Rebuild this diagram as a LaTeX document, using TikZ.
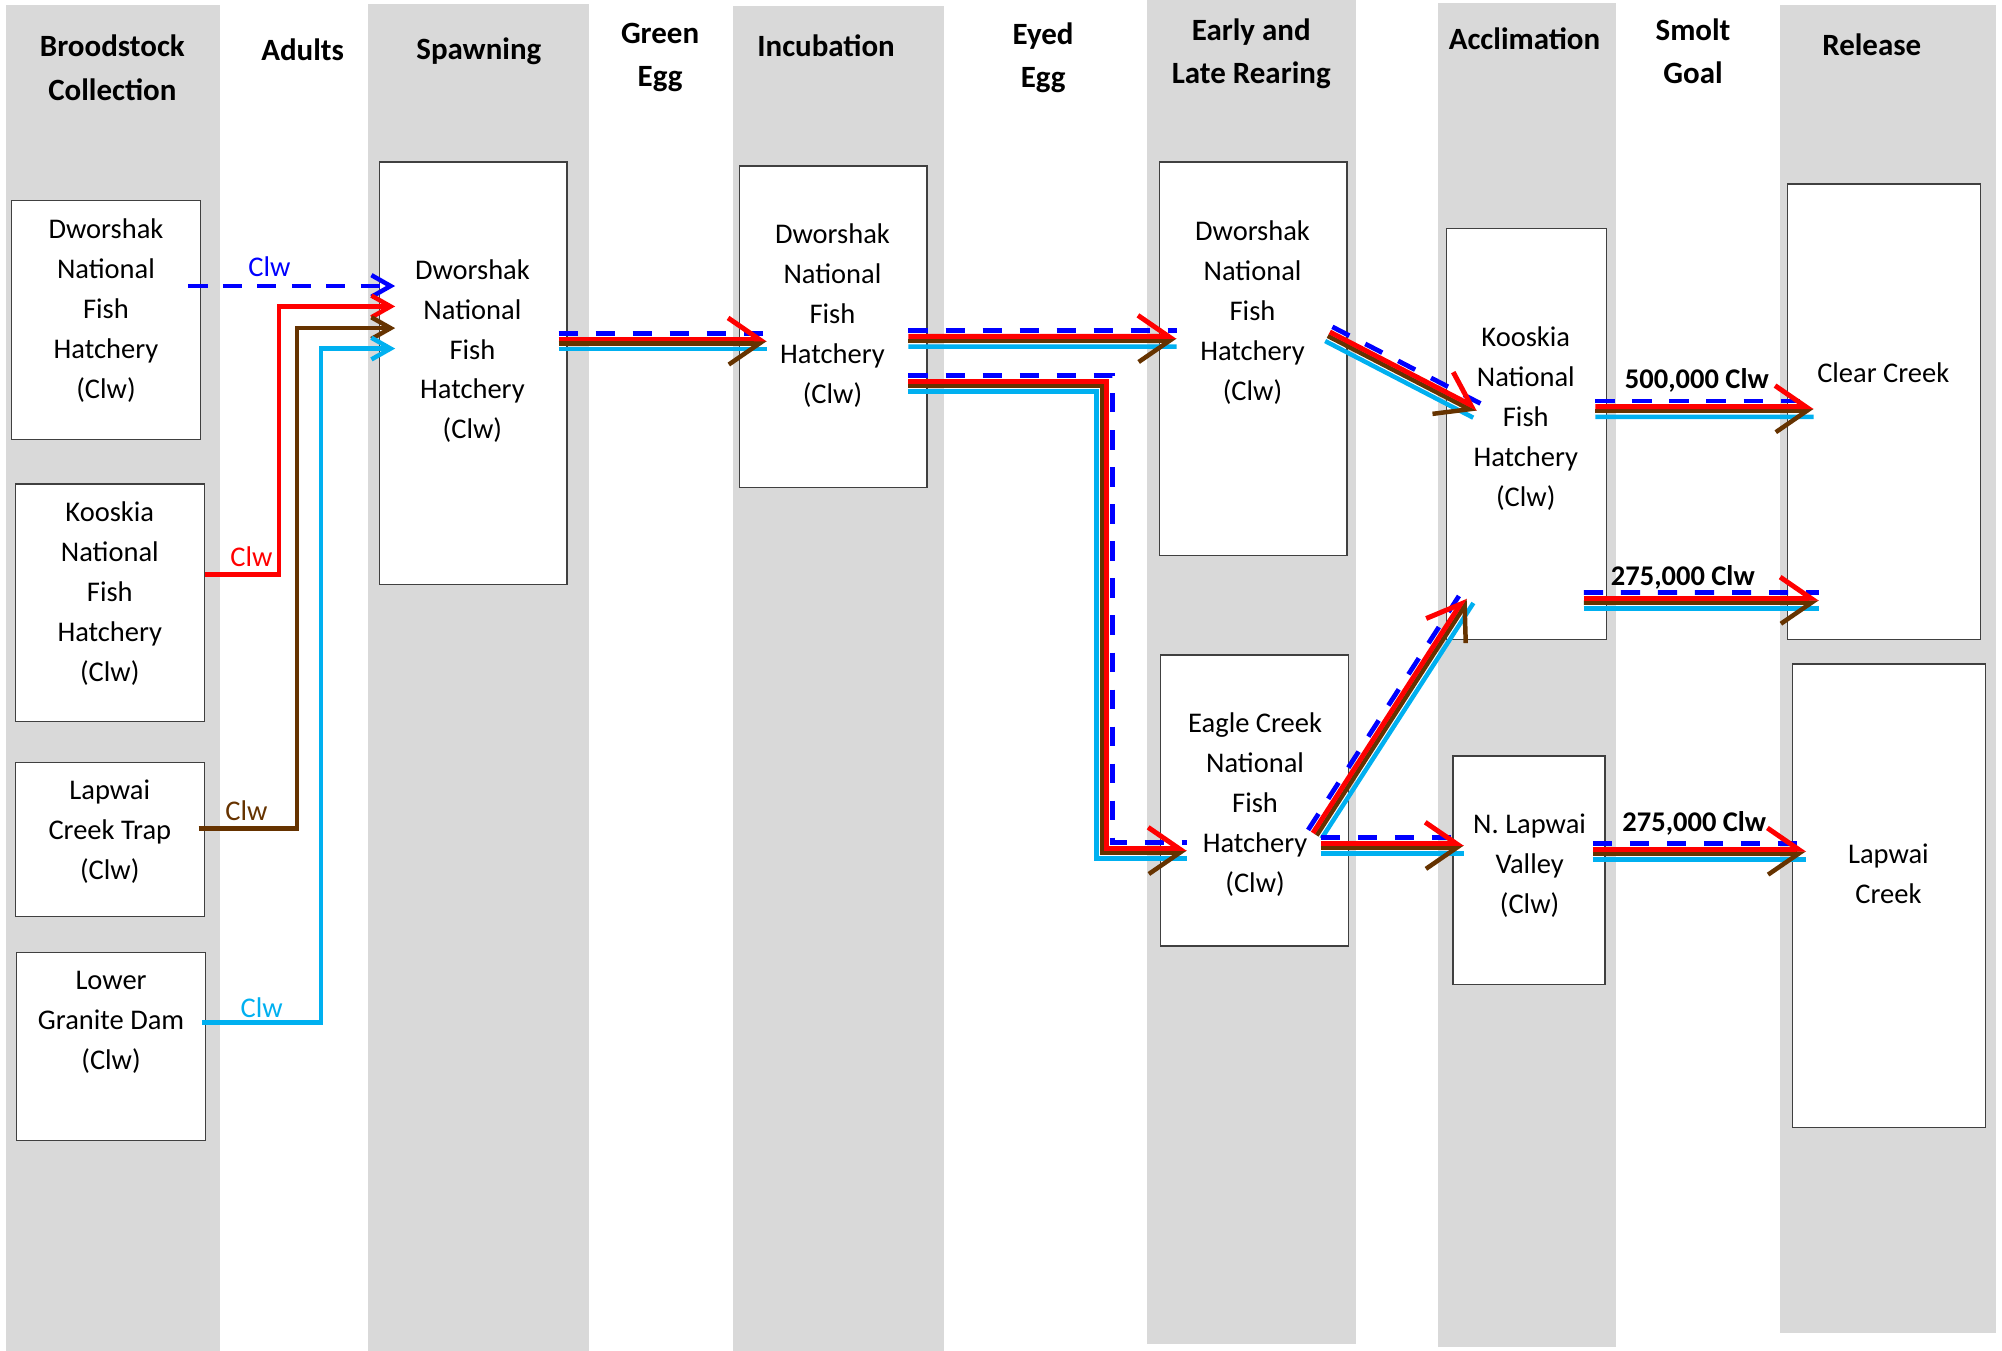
\documentclass[tikz,border=0pt]{standalone}
\usepackage{fontspec}
\setmainfont{Carlito}
\usetikzlibrary{arrows.meta, calc, positioning}

\definecolor{lanegray}{RGB}{217,217,217}
\definecolor{boxline}{RGB}{64,64,64}
\definecolor{flowblue}{RGB}{0,0,255}
\definecolor{flowred}{RGB}{255,0,0}
\definecolor{flowbrown}{RGB}{102,51,0}
\definecolor{flowcyan}{RGB}{0,176,240}

\begin{document}
\begin{tikzpicture}
        [x=0.2mm, y=-0.2mm,
         lanesty/.style={fill=lanegray,
                         draw=none},
         headsty/.style={font=\bfseries\fontsize{13.8}{19.3}\selectfont,
                         align=center,
                         inner sep=0pt},
         boxsty/.style={rectangle,
                        inner sep=0pt,
                        line width=0.6pt,
                        draw=boxline,
                        fill=white},
         textsty/.style={font=\fontsize{12.7}{17.8}\selectfont,
                         align=center,
                         inner sep=0pt},
         clwsty/.style={font=\fontsize{12.7}{15}\selectfont,
                        inner sep=0pt},
         goalsty/.style={font=\bfseries\fontsize{12.7}{15}\selectfont,
                         inner sep=0pt},
         adult/.style={line width=2pt, -{Straight Barb[length=3mm, width=3.4mm]}},
         blueflow/.style={line width=2.1pt, flowblue, dash pattern=on 3mm off 2.8mm},
         redflow/.style={line width=2.2pt, flowred, -{Straight Barb[left, length=4.8mm, width=6.6mm]}},
         brownflow/.style={line width=2pt, flowbrown, -{Straight Barb[right, length=4.8mm, width=6.6mm]}},
         cyanflow/.style={line width=2pt, flowcyan}]

        \useasboundingbox (0,0) rectangle (1568,1058);

        % gray stage columns
        \foreach \xa/\xb/\ya/\yb in {5/172/4/1058, 288/461/3/1058, 574/739/5/1058,
                                     898/1062/0/1053, 1126/1266/2/1055, 1394/1563/4/1044}
                \fill[lanesty] (\xa,\ya) rectangle (\xb,\yb);

        % column headings
        \node[headsty] (brood head) at (88,53) {Broodstock\\Collection};
        \node[headsty] (adult head) at (237,39) {Adults};
        \node[headsty] (spawn head) at (375,40) {Spawning};
        \node[headsty] (green head) at (517,45) {Green\\Egg};
        \node[headsty] (incub head) at (647,36) {Incubation};
        \node[headsty] (eyed head) at (817,45) {Eyed\\Egg};
        \node[headsty] (rear head) at (980,42) {Early and\\Late Rearing};
        \node[headsty] (accl head) at (1194,30) {Acclimation};
        \node[headsty] (smolt head) at (1326,40) {Smolt\\Goal};
        \node[headsty] (rel head) at (1466,35) {Release};

        % facility boxes
        \node[boxsty, minimum width=29.6mm, minimum height=37.4mm] (brood1 box) at (83,250.5) {};
        \node[textsty] (brood1 text) at (83,243.5) {Dworshak\\National\\Fish\\Hatchery\\(Clw)};

        \node[boxsty, minimum width=29.6mm, minimum height=37.2mm] (brood2 box) at (86,472) {};
        \node[textsty] (brood2 text) at (86,465) {Kooskia\\National\\Fish\\Hatchery\\(Clw)};

        \node[boxsty, minimum width=29.6mm, minimum height=24.2mm] (brood3 box) at (86,657.5) {};
        \node[textsty] (brood3 text) at (86,651.5) {Lapwai\\Creek Trap\\(Clw)};

        \node[boxsty, minimum width=29.6mm, minimum height=29.4mm] (brood4 box) at (87,819.5) {};
        \node[textsty] (brood4 text) at (87,800.5) {Lower\\Granite Dam\\(Clw)};

        \node[boxsty, minimum width=29.4mm, minimum height=66.2mm] (spawn box) at (370.5,292.5) {};
        \node[textsty] (spawn text) at (370,275) {Dworshak\\National\\Fish\\Hatchery\\(Clw)};

        \node[boxsty, minimum width=29.4mm, minimum height=50.4mm] (incub box) at (652.5,256) {};
        \node[textsty] (incub text) at (652,247) {Dworshak\\National\\Fish\\Hatchery\\(Clw)};

        \node[boxsty, minimum width=29.4mm, minimum height=61.6mm] (rear1 box) at (981.5,281) {};
        \node[textsty] (rear1 text) at (981,245) {Dworshak\\National\\Fish\\Hatchery\\(Clw)};

        \node[boxsty, minimum width=29.4mm, minimum height=45.6mm] (rear2 box) at (982.5,627) {};
        \node[textsty] (rear2 text) at (983,630) {Eagle Creek\\National\\Fish\\Hatchery\\(Clw)};

        \node[boxsty, minimum width=25mm, minimum height=64.4mm] (accl1 box) at (1195.5,340) {};
        \node[textsty] (accl1 text) at (1195,328) {Kooskia\\National\\Fish\\Hatchery\\(Clw)};

        \node[boxsty, minimum width=23.8mm, minimum height=35.8mm] (accl2 box) at (1197.5,681.5) {};
        \node[textsty] (accl2 text) at (1198,678) {N. Lapwai\\Valley\\(Clw)};

        \node[boxsty, minimum width=30.2mm, minimum height=71.4mm] (rel1 box) at (1475.5,322.5) {};
        \node[textsty] (rel1 text) at (1475,292) {Clear Creek};

        \node[boxsty, minimum width=30.2mm, minimum height=72.6mm] (rel2 box) at (1479.5,701.5) {};
        \node[textsty] (rel2 text) at (1479,684) {Lapwai\\Creek};

        % adults to spawning
        \draw[adult, flowblue, dash pattern=on 3mm off 2.4mm]
                ($(brood1 box.east)+(-10,-26.5)$) -- ($(spawn box.west)+(13,-68.5)$);
        \draw[adult, flowred]
                ($(brood2 box.east)+(0,-22)$) -- ++(58,0) |- ($(spawn box.west)+(13,-52.5)$);
        \draw[adult, flowbrown]
                ($(brood3 box.east)+(-5,-8.5)$) -- ++(77,0) |- ($(spawn box.west)+(13,-35.5)$);
        \draw[adult, flowcyan]
                ($(brood4 box.east)+(-3,-18.5)$) -- ++(93,0) |- ($(spawn box.west)+(13,-19.5)$);

        \node[clwsty, text=flowblue] (blue clw) at (211,209) {Clw};
        \node[clwsty, text=flowred] (red clw) at (197,436) {Clw};
        \node[clwsty, text=flowbrown] (brown clw) at (193,635) {Clw};
        \node[clwsty, text=flowcyan] (cyan clw) at (205,789) {Clw};

        % four parallel stock lines per transfer
        \newcommand{\bundle}[1]{%
                \foreach \sty/\d in {cyanflow/12.5, brownflow/8, blueflow/0, redflow/4.5}
                        {\draw[\sty] #1;}}

        \bundle{($(spawn box.east)+(-7,-31.5+\d)$) -- ($(incub box.west)+(22,5+\d)$)}
        \bundle{($(incub box.east)+(-15,3+\d)$) -- ($(rear1 box.west)+(14,-22+\d)$)}
        \bundle{($(incub box.east)+(-15,38+\d)$) -| ($(rear2 box.west)+(-37-\d,33+\d)$)
                -- ($(rear2 box.west)+(21,33+\d)$)}
        \bundle{($(rear1 box.east)+(-12-0.45*\d,-25+0.89*\d)$)
                -- ($(accl1 box.west)+(27-0.45*\d,-24+0.89*\d)$)}
        \bundle{($(rear2 box.east)+(-32+0.84*\d,23+0.54*\d)$)
                -- ($(accl1 box.south west)+(11+0.84*\d,-36+0.54*\d)$)}
        \bundle{($(rear2 box.east)+(-22,29+\d)$) -- ($(accl2 box.west)+(9,-25.5+\d)$)}
        \bundle{($(accl1 box.east)+(-9,-26+\d)$) -- ($(rel1 box.west)+(21,-8.5+\d)$)}
        \bundle{($(accl1 box.east)+(-18,124+\d)$) -- ($(rel1 box.west)+(25,141.5+\d)$)}
        \bundle{($(accl2 box.east)+(-10,-21+\d)$) -- ($(rel2 box.west)+(11,-41+\d)$)}

        % smolt goals
        \node[goalsty] (goal clear high) at (1329,298) {500,000 Clw};
        \node[goalsty] (goal clear low) at (1318,452) {275,000 Clw};
        \node[goalsty] (goal lapwai) at (1327,645) {275,000 Clw};
\end{tikzpicture}
\end{document}
